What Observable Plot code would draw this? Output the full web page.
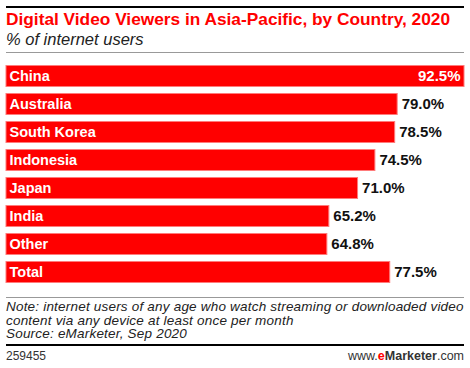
<!DOCTYPE html>
<html><head><meta charset="utf-8">
<script src="https://cdn.jsdelivr.net/npm/d3@7"></script>
<script src="https://cdn.jsdelivr.net/npm/@observablehq/plot@0.6"></script>
<style>
body{margin:0;background:#fff;font-family:"Liberation Sans",Arial,sans-serif;}
#wrap{position:relative;width:470px;height:368px;overflow:hidden;}
.rule{position:absolute;left:6px;width:458px;}
.title{position:absolute;left:6px;top:9px;font:bold 17.3px "Liberation Sans",Arial,sans-serif;color:#ff0000;white-space:nowrap;}
.sub{position:absolute;left:6px;top:30px;font:italic 16.5px "Liberation Sans",Arial,sans-serif;color:#222;white-space:nowrap;}
.note{position:absolute;left:6px;top:300px;font:italic 13.5px/13.5px "Liberation Sans",Arial,sans-serif;letter-spacing:0.2px;color:#222;white-space:nowrap;}
.foot{position:absolute;top:349px;font:12px "Liberation Sans",Arial,sans-serif;color:#333;}
#chart{position:absolute;left:0;top:56px;}
</style></head>
<body><div id="wrap">
<div class="rule" style="top:6px;height:2px;background:#000"></div>
<div class="title">Digital Video Viewers in Asia-Pacific, by Country, 2020</div>
<div class="sub">% of internet users</div>
<div class="rule" style="top:52px;height:1px;background:#999"></div>
<div id="chart"></div>
<div class="rule" style="top:297px;height:1px;background:#999"></div>
<div class="note">Note: internet users of any age who watch streaming or downloaded video<br>content via any device at least once per month<br>Source: eMarketer, Sep 2020</div>
<div class="rule" style="top:344px;height:2px;background:#000"></div>
<div class="foot" style="left:6px">259455</div>
<div class="foot" style="right:6px;font-size:12.5px">www.<b style="color:#ff0000">e</b><b>Marketer</b>.com</div>
</div>
<script>
const countries = ["China","Australia","South Korea","Indonesia","Japan","India","Other","Total"];
const values = [92.5,79.0,78.5,74.5,71.0,65.2,64.8,77.5];
const data = countries.map((c,i)=>({country:c, value:values[i]}));
const inside = data.filter(d=>d.country==="China");
const outside = data.filter(d=>d.country!=="China");
const chart = Plot.plot({
  width:470, height:236,
  marginTop:4, marginBottom:5, marginLeft:0, marginRight:0,
  x:{domain:[0,92.5], range:[6,464], axis:null},
  y:{domain:countries, padding:0, axis:null},
  style:{fontFamily:'"Liberation Sans",Arial,sans-serif', fontSize:"14px", background:"transparent"},
  marks:[
    Plot.barX(data,{y:"country", x:"value", fill:"#ff0000", stroke:"#ff7b7b", strokeWidth:1, insetTop:3.5, insetBottom:3.5}),
    Plot.text(data,{y:"country", x:0, text:"country", dx:3, textAnchor:"start", fill:"white", fontWeight:"bold", fontSize:14.5}),
    Plot.text(inside,{y:"country", x:"value", text:d=>d.value.toFixed(1)+"%", dx:-4, textAnchor:"end", fill:"white", fontWeight:"bold", fontSize:15}),
    Plot.text(outside,{y:"country", x:"value", text:d=>d.value.toFixed(1)+"%", dx:4, textAnchor:"start", fill:"#111", fontWeight:"bold", fontSize:15})
  ]
});
document.getElementById("chart").appendChild(chart);
</script>
</body></html>
